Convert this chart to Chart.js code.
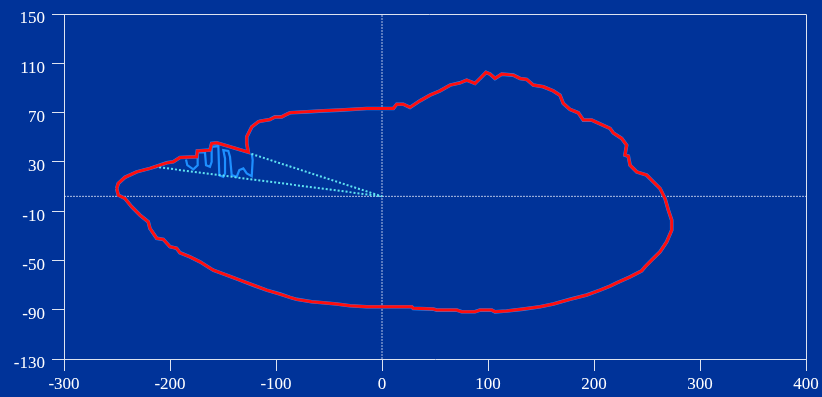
<!DOCTYPE html>
<html>
<head>
<meta charset="utf-8">
<script src="https://cdn.jsdelivr.net/npm/chart.js@4.4.1/dist/chart.umd.min.js"></script>
<style>
  body { margin: 0; background: #003399; }
  canvas { display: block; }
</style>
</head>
<body>
<canvas id="myChart" width="822" height="397"></canvas>
<script>
// axis ranges / ticks
const X_MIN = -300, X_MAX = 400, X_STEP = 100;
const Y_MIN = -130, Y_MAX = 150, Y_STEP = 40;

// crosshair centre (dotted white lines)
const centreX = 0;
const centreY = 2;

// red outline (closed loop)
const outlineX = [-250.3, -248.8, -242.5, -231.4, -218.9, -212.5, -203.1, -196.9, -190.6, -174.8,
  -174.2, -162.3, -160.7, -155.9, -126.1, -127.6, -127.6, -122.9, -116.7, -115.1,
  -105.7, -100.9, -94.6, -91.5, -86.8, -71, -55.4, -39.6, -14.4, 10.7,
  13.9, 20.1, 26.4, 35.8, 45.3, 54.7, 64.2, 73.6, 79.9, 87.7,
  92.5, 98.1, 101.9, 106.6, 112.9, 123.9, 130.2, 136.5, 142.7, 152.2,
  161.6, 167.9, 171, 177.4, 185.2, 189.9, 197.8, 215.1, 218.2, 226.1,
  230.8, 229.2, 232.4, 234, 240.3, 249.7, 255.9, 262.3, 267, 270.1,
  273.3, 273.3, 268.6, 262.3, 254.4, 248.1, 245, 234, 221.4, 215.1,
  205.7, 193.1, 177.4, 161.6, 149.1, 133.3, 117.6, 106.6, 103.5, 92.5,
  87.7, 75.2, 70.5, 51.6, 48.4, 29.5, 28, -14.4, -30.2, -42.7,
  -55.4, -66.3, -80.5, -86.8, -96.2, -108.8, -121.4, -134, -146.5, -159.2,
  -171.7, -181.1, -190.6, -193.7, -200, -206.3, -212.5, -218.9, -220.5, -228.3,
  -236.1, -242.5, -248.8, -250.3];
const outlineY = [8.4, 12.5, 17.4, 21.9, 24.7, 26.5, 29.2, 30, 33.6, 34.1,
  38.9, 39.5, 44.9, 45.4, 37.9, 44.9, 50.3, 58.4, 62.5, 63,
  64.4, 66.5, 66.5, 67.9, 69.8, 70.6, 71.4, 72, 73.3, 73.3,
  76.8, 76.8, 74.2, 79.5, 84.1, 87.6, 92.3, 94.1, 96.3, 93.6,
  97.7, 102.6, 101.2, 97.7, 101.2, 100.4, 97.7, 96.9, 92.3, 90.9,
  87.6, 84.1, 77.4, 72.5, 69.8, 63.9, 63.9, 57.1, 53.5, 49,
  43.6, 35.5, 34.6, 27.3, 21.9, 19.2, 13.8, 8.4, 0.3, -9.1,
  -17.3, -25.4, -34.9, -43, -49.7, -55.2, -58.4, -63.3, -68.2, -70.8,
  -74.1, -78.1, -81.6, -85.4, -87.6, -89.5, -91.1, -91.7, -90.3, -90.3,
  -91.7, -91.7, -90.3, -90.3, -89.5, -88.9, -87.6, -87.6, -86.8, -85.4,
  -84.4, -83.6, -81.6, -80, -77.3, -74.1, -70.1, -66, -61.9, -57.9,
  -51.1, -47.1, -43.8, -40.2, -38.9, -32.9, -32.1, -24, -18.7, -13.2,
  -6.5, 0.3, 3, 8.4];

// light blue trace inside the wedge
const toothX = [-184.9, -183.7, -178, -173.9, -173.9, -173.9, -167, -166, -162.3, -160.7,
  -160.7, -154.4, -153.5, -149.7, -148.1, -148.1, -149.7, -145, -143.4, -141.8,
  -137.1, -134.6, -130.8, -127.6, -122.9, -122, -122.9];
const toothY = [32, 27.3, 23.9, 27.3, 32, 37.9, 37.6, 27.3, 26, 30,
  42.2, 42.8, 19.2, 17.8, 20.6, 32.8, 39.5, 38.9, 34.1, 19.2,
  17.8, 23.3, 24.7, 20.6, 18.4, 31.4, 36.8];

// the two cyan dotted rays meet at the centre
const rayX = [-214, centreX, -124.5];
const rayY = [26, centreY, 36.8];

function pts(xs, ys) {
    return xs.map((x, i) => ({x: x, y: ys[i]}));
}

const AXIS_COLOR = '#dde3f0';
const LABEL_FONT = {family: "'Liberation Serif', 'DejaVu Serif', serif", size: 17};

// background + top/right frame lines
const framePlugin = {
    id: 'frame',
    beforeDraw(chart) {
        const c = chart.ctx;
        c.save();
        c.fillStyle = '#003399';
        c.fillRect(0, 0, chart.width, chart.height);
        c.restore();
    },
    afterDraw(chart) {
        const a = chart.chartArea;
        const c = chart.ctx;
        c.save();
        c.strokeStyle = AXIS_COLOR;
        c.lineWidth = 1;
        c.beginPath();
        c.moveTo(a.left - 12, Math.round(a.top) + 0.5);
        c.lineTo(Math.round(a.right) + 0.5, Math.round(a.top) + 0.5);
        c.lineTo(Math.round(a.right) + 0.5, a.bottom);
        c.stroke();
        c.restore();
    }
};

const ctx = document.getElementById('myChart');

var chart = new Chart(ctx, {
    type: 'scatter',
    data: {
        datasets: [
            {
                label: 'outline',
                data: pts(outlineX, outlineY),
                showLine: true,
                borderColor: '#ff0d0d',
                borderWidth: 3,
                pointRadius: 0,
                tension: 0,
                order: 1
            },
            {
                label: 'outline trace',
                data: pts(outlineX, outlineY),
                showLine: true,
                borderColor: '#1e8fff',
                borderWidth: 3.6,
                pointRadius: 0,
                tension: 0,
                order: 3
            },
            {
                label: 'rays',
                data: pts(rayX, rayY),
                showLine: true,
                borderColor: '#5fe3f2',
                borderWidth: 2,
                borderDash: [2, 2],
                pointRadius: 0,
                tension: 0,
                order: 2
            },
            {
                label: 'trace',
                data: pts(toothX, toothY),
                showLine: true,
                borderColor: '#1e8fff',
                borderWidth: 2.2,
                pointRadius: 0,
                tension: 0,
                order: 2
            },
            {
                label: 'h cross',
                data: [{x: X_MIN, y: centreY}, {x: X_MAX, y: centreY}],
                showLine: true,
                borderColor: 'rgba(220,228,245,0.8)',
                borderWidth: 1,
                borderDash: [2, 1],
                pointRadius: 0,
                order: 5
            },
            {
                label: 'v cross',
                data: [{x: centreX, y: Y_MIN}, {x: centreX, y: Y_MAX}],
                showLine: true,
                borderColor: 'rgba(220,228,245,0.8)',
                borderWidth: 1,
                borderDash: [2, 1],
                pointRadius: 0,
                order: 5
            }
        ]
    },
    options: {
        responsive: false,
        animation: false,
        layout: { padding: { top: 14, right: 16, left: 0, bottom: 0 } },
        plugins: {
            legend: { display: false },
            tooltip: { enabled: false }
        },
        scales: {
            x: {
                type: 'linear',
                min: X_MIN,
                max: X_MAX,
                ticks: { stepSize: X_STEP, color: '#ffffff', font: LABEL_FONT, padding: 3, maxRotation: 0 },
                grid: { display: true, drawOnChartArea: false, drawTicks: true, tickLength: 12, color: AXIS_COLOR },
                border: { display: true, color: AXIS_COLOR },
                afterFit(s) {
                    s.height = 38;
                    s.paddingLeft = 0;
                    s.paddingRight = 0;
                }
            },
            y: {
                type: 'linear',
                min: Y_MIN,
                max: Y_MAX,
                ticks: { stepSize: Y_STEP, color: '#ffffff', font: LABEL_FONT, padding: 7, labelOffset: 5 },
                grid: { display: true, drawOnChartArea: false, drawTicks: true, tickLength: 12, color: AXIS_COLOR },
                border: { display: true, color: AXIS_COLOR },
                afterFit(s) {
                    s.width = 64;
                    s.paddingTop = 0;
                    s.paddingBottom = 0;
                }
            }
        }
    },
    plugins: [framePlugin]
});
</script>
</body>
</html>
